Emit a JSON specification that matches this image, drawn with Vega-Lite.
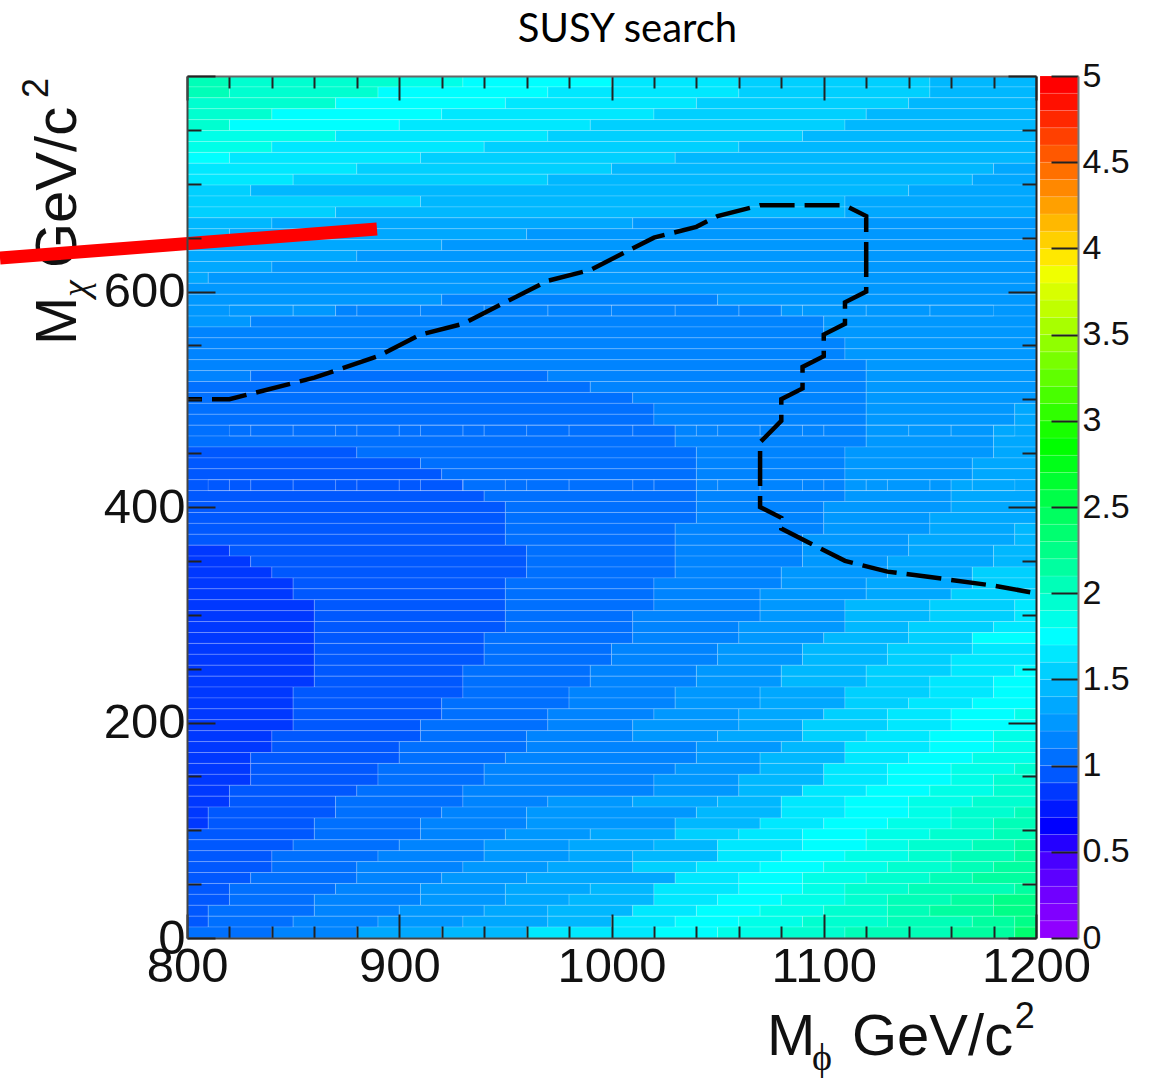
{"$schema":"https://vega.github.io/schema/vega-lite/v6.json","width":849,"height":862,"autosize":{"type":"none"},"padding":{"left":187,"top":76,"right":123,"bottom":142},"background":"white","title":{"text":"SUSY search","font":"Lato","fontSize":40,"fontWeight":"normal","color":"#000","anchor":"middle","dx":16,"offset":2},
"datasets":{"heat":[
{"r":78,"a":800,"b":820,"z":2.05},{"r":78,"a":820,"b":900,"z":1.95},{"r":78,"a":900,"b":930,"z":1.85},{"r":78,"a":930,"b":1000,"z":1.75},{"r":78,"a":1000,"b":1060,"z":1.65},{"r":78,"a":1060,"b":1150,"z":1.55},{"r":78,"a":1150,"b":1200,"z":1.45},
{"r":77,"a":800,"b":820,"z":2.05},{"r":77,"a":820,"b":890,"z":1.95},{"r":77,"a":890,"b":970,"z":1.75},{"r":77,"a":970,"b":1060,"z":1.65},{"r":77,"a":1060,"b":1150,"z":1.55},{"r":77,"a":1150,"b":1200,"z":1.45},
{"r":76,"a":800,"b":870,"z":1.95},{"r":76,"a":870,"b":950,"z":1.75},{"r":76,"a":950,"b":1040,"z":1.65},{"r":76,"a":1040,"b":1140,"z":1.55},{"r":76,"a":1140,"b":1200,"z":1.45},
{"r":75,"a":800,"b":840,"z":1.95},{"r":75,"a":840,"b":920,"z":1.75},{"r":75,"a":920,"b":1020,"z":1.65},{"r":75,"a":1020,"b":1120,"z":1.55},{"r":75,"a":1120,"b":1200,"z":1.45},
{"r":74,"a":800,"b":820,"z":1.95},{"r":74,"a":820,"b":900,"z":1.75},{"r":74,"a":900,"b":990,"z":1.65},{"r":74,"a":990,"b":1110,"z":1.55},{"r":74,"a":1110,"b":1200,"z":1.45},
{"r":73,"a":800,"b":870,"z":1.85},{"r":73,"a":870,"b":970,"z":1.65},{"r":73,"a":970,"b":1090,"z":1.55},{"r":73,"a":1090,"b":1200,"z":1.45},
{"r":72,"a":800,"b":840,"z":1.85},{"r":72,"a":840,"b":940,"z":1.65},{"r":72,"a":940,"b":1060,"z":1.55},{"r":72,"a":1060,"b":1200,"z":1.45},
{"r":71,"a":800,"b":820,"z":1.75},{"r":71,"a":820,"b":910,"z":1.65},{"r":71,"a":910,"b":1030,"z":1.55},{"r":71,"a":1030,"b":1200,"z":1.45},
{"r":70,"a":800,"b":880,"z":1.65},{"r":70,"a":880,"b":1000,"z":1.55},{"r":70,"a":1000,"b":1180,"z":1.45},{"r":70,"a":1180,"b":1200,"z":1.35},
{"r":69,"a":800,"b":850,"z":1.65},{"r":69,"a":850,"b":970,"z":1.55},{"r":69,"a":970,"b":1170,"z":1.45},{"r":69,"a":1170,"b":1200,"z":1.35},
{"r":68,"a":800,"b":830,"z":1.55},{"r":68,"a":830,"b":1140,"z":1.45},{"r":68,"a":1140,"b":1200,"z":1.35},
{"r":67,"a":800,"b":910,"z":1.55},{"r":67,"a":910,"b":1110,"z":1.45},{"r":67,"a":1110,"b":1200,"z":1.35},
{"r":66,"a":800,"b":870,"z":1.55},{"r":66,"a":870,"b":1110,"z":1.45},{"r":66,"a":1110,"b":1200,"z":1.35},
{"r":65,"a":800,"b":840,"z":1.45},{"r":65,"a":840,"b":1010,"z":1.35},{"r":65,"a":1010,"b":1200,"z":1.25},
{"r":64,"a":800,"b":820,"z":1.45},{"r":64,"a":820,"b":960,"z":1.35},{"r":64,"a":960,"b":1200,"z":1.25},
{"r":63,"a":800,"b":920,"z":1.35},{"r":63,"a":920,"b":1200,"z":1.25},
{"r":62,"a":800,"b":880,"z":1.35},{"r":62,"a":880,"b":1200,"z":1.25},
{"r":61,"a":800,"b":840,"z":1.35},{"r":61,"a":840,"b":1200,"z":1.25},
{"r":60,"a":800,"b":810,"z":1.35},{"r":60,"a":810,"b":1200,"z":1.25},
{"r":59,"a":800,"b":1200,"z":1.25},
{"r":58,"a":800,"b":920,"z":1.25},{"r":58,"a":920,"b":1050,"z":1.15},{"r":58,"a":1050,"b":1200,"z":1.25},
{"r":57,"a":800,"b":870,"z":1.25},{"r":57,"a":870,"b":1080,"z":1.15},{"r":57,"a":1080,"b":1200,"z":1.25},
{"r":56,"a":800,"b":830,"z":1.25},{"r":56,"a":830,"b":1100,"z":1.15},{"r":56,"a":1100,"b":1200,"z":1.25},
{"r":55,"a":800,"b":1100,"z":1.15},{"r":55,"a":1100,"b":1200,"z":1.25},
{"r":54,"a":800,"b":1110,"z":1.15},{"r":54,"a":1110,"b":1200,"z":1.25},
{"r":53,"a":800,"b":1110,"z":1.15},{"r":53,"a":1110,"b":1200,"z":1.25},
{"r":52,"a":800,"b":1120,"z":1.15},{"r":52,"a":1120,"b":1200,"z":1.25},
{"r":51,"a":800,"b":830,"z":1.15},{"r":51,"a":830,"b":970,"z":1.05},{"r":51,"a":970,"b":1120,"z":1.15},{"r":51,"a":1120,"b":1200,"z":1.25},
{"r":50,"a":800,"b":990,"z":1.05},{"r":50,"a":990,"b":1120,"z":1.15},{"r":50,"a":1120,"b":1200,"z":1.25},
{"r":49,"a":800,"b":1010,"z":1.05},{"r":49,"a":1010,"b":1120,"z":1.15},{"r":49,"a":1120,"b":1200,"z":1.25},
{"r":48,"a":800,"b":1020,"z":1.05},{"r":48,"a":1020,"b":1120,"z":1.15},{"r":48,"a":1120,"b":1190,"z":1.25},{"r":48,"a":1190,"b":1200,"z":1.35},
{"r":47,"a":800,"b":1020,"z":1.05},{"r":47,"a":1020,"b":1120,"z":1.15},{"r":47,"a":1120,"b":1190,"z":1.25},{"r":47,"a":1190,"b":1200,"z":1.35},
{"r":46,"a":800,"b":1030,"z":1.05},{"r":46,"a":1030,"b":1120,"z":1.15},{"r":46,"a":1120,"b":1180,"z":1.25},{"r":46,"a":1180,"b":1200,"z":1.35},
{"r":45,"a":800,"b":1030,"z":1.05},{"r":45,"a":1030,"b":1120,"z":1.15},{"r":45,"a":1120,"b":1180,"z":1.25},{"r":45,"a":1180,"b":1200,"z":1.35},
{"r":44,"a":800,"b":880,"z":0.95},{"r":44,"a":880,"b":1040,"z":1.05},{"r":44,"a":1040,"b":1110,"z":1.15},{"r":44,"a":1110,"b":1180,"z":1.25},{"r":44,"a":1180,"b":1200,"z":1.35},
{"r":43,"a":800,"b":910,"z":0.95},{"r":43,"a":910,"b":1040,"z":1.05},{"r":43,"a":1040,"b":1110,"z":1.15},{"r":43,"a":1110,"b":1170,"z":1.25},{"r":43,"a":1170,"b":1200,"z":1.35},
{"r":42,"a":800,"b":920,"z":0.95},{"r":42,"a":920,"b":1040,"z":1.05},{"r":42,"a":1040,"b":1110,"z":1.15},{"r":42,"a":1110,"b":1170,"z":1.25},{"r":42,"a":1170,"b":1200,"z":1.35},
{"r":41,"a":800,"b":930,"z":0.95},{"r":41,"a":930,"b":1040,"z":1.05},{"r":41,"a":1040,"b":1110,"z":1.15},{"r":41,"a":1110,"b":1160,"z":1.25},{"r":41,"a":1160,"b":1200,"z":1.35},
{"r":40,"a":800,"b":940,"z":0.95},{"r":40,"a":940,"b":1040,"z":1.05},{"r":40,"a":1040,"b":1110,"z":1.15},{"r":40,"a":1110,"b":1160,"z":1.25},{"r":40,"a":1160,"b":1200,"z":1.35},
{"r":39,"a":800,"b":950,"z":0.95},{"r":39,"a":950,"b":1040,"z":1.05},{"r":39,"a":1040,"b":1100,"z":1.15},{"r":39,"a":1100,"b":1160,"z":1.25},{"r":39,"a":1160,"b":1200,"z":1.35},
{"r":38,"a":800,"b":950,"z":0.95},{"r":38,"a":950,"b":1040,"z":1.05},{"r":38,"a":1040,"b":1100,"z":1.15},{"r":38,"a":1100,"b":1150,"z":1.25},{"r":38,"a":1150,"b":1200,"z":1.35},
{"r":37,"a":800,"b":950,"z":0.95},{"r":37,"a":950,"b":1030,"z":1.05},{"r":37,"a":1030,"b":1100,"z":1.15},{"r":37,"a":1100,"b":1150,"z":1.25},{"r":37,"a":1150,"b":1190,"z":1.35},{"r":37,"a":1190,"b":1200,"z":1.45},
{"r":36,"a":800,"b":950,"z":0.95},{"r":36,"a":950,"b":1030,"z":1.05},{"r":36,"a":1030,"b":1090,"z":1.15},{"r":36,"a":1090,"b":1140,"z":1.25},{"r":36,"a":1140,"b":1190,"z":1.35},{"r":36,"a":1190,"b":1200,"z":1.45},
{"r":35,"a":800,"b":820,"z":0.85},{"r":35,"a":820,"b":960,"z":0.95},{"r":35,"a":960,"b":1030,"z":1.05},{"r":35,"a":1030,"b":1090,"z":1.15},{"r":35,"a":1090,"b":1140,"z":1.25},{"r":35,"a":1140,"b":1180,"z":1.35},{"r":35,"a":1180,"b":1200,"z":1.45},
{"r":34,"a":800,"b":830,"z":0.85},{"r":34,"a":830,"b":960,"z":0.95},{"r":34,"a":960,"b":1030,"z":1.05},{"r":34,"a":1030,"b":1090,"z":1.15},{"r":34,"a":1090,"b":1130,"z":1.25},{"r":34,"a":1130,"b":1180,"z":1.35},{"r":34,"a":1180,"b":1200,"z":1.45},
{"r":33,"a":800,"b":840,"z":0.85},{"r":33,"a":840,"b":960,"z":0.95},{"r":33,"a":960,"b":1030,"z":1.05},{"r":33,"a":1030,"b":1080,"z":1.15},{"r":33,"a":1080,"b":1130,"z":1.25},{"r":33,"a":1130,"b":1170,"z":1.35},{"r":33,"a":1170,"b":1200,"z":1.55},
{"r":32,"a":800,"b":850,"z":0.85},{"r":32,"a":850,"b":950,"z":0.95},{"r":32,"a":950,"b":1020,"z":1.05},{"r":32,"a":1020,"b":1080,"z":1.15},{"r":32,"a":1080,"b":1120,"z":1.25},{"r":32,"a":1120,"b":1170,"z":1.35},{"r":32,"a":1170,"b":1200,"z":1.55},
{"r":31,"a":800,"b":850,"z":0.85},{"r":31,"a":850,"b":950,"z":0.95},{"r":31,"a":950,"b":1020,"z":1.05},{"r":31,"a":1020,"b":1070,"z":1.15},{"r":31,"a":1070,"b":1120,"z":1.25},{"r":31,"a":1120,"b":1160,"z":1.35},{"r":31,"a":1160,"b":1200,"z":1.55},
{"r":30,"a":800,"b":860,"z":0.85},{"r":30,"a":860,"b":950,"z":0.95},{"r":30,"a":950,"b":1020,"z":1.05},{"r":30,"a":1020,"b":1070,"z":1.15},{"r":30,"a":1070,"b":1110,"z":1.25},{"r":30,"a":1110,"b":1150,"z":1.45},{"r":30,"a":1150,"b":1190,"z":1.55},{"r":30,"a":1190,"b":1200,"z":1.65},
{"r":29,"a":800,"b":860,"z":0.85},{"r":29,"a":860,"b":950,"z":0.95},{"r":29,"a":950,"b":1010,"z":1.05},{"r":29,"a":1010,"b":1070,"z":1.15},{"r":29,"a":1070,"b":1110,"z":1.25},{"r":29,"a":1110,"b":1150,"z":1.45},{"r":29,"a":1150,"b":1190,"z":1.55},{"r":29,"a":1190,"b":1200,"z":1.65},
{"r":28,"a":800,"b":860,"z":0.85},{"r":28,"a":860,"b":950,"z":0.95},{"r":28,"a":950,"b":1010,"z":1.05},{"r":28,"a":1010,"b":1060,"z":1.15},{"r":28,"a":1060,"b":1110,"z":1.25},{"r":28,"a":1110,"b":1140,"z":1.45},{"r":28,"a":1140,"b":1180,"z":1.55},{"r":28,"a":1180,"b":1200,"z":1.65},
{"r":27,"a":800,"b":860,"z":0.85},{"r":27,"a":860,"b":940,"z":0.95},{"r":27,"a":940,"b":1010,"z":1.05},{"r":27,"a":1010,"b":1060,"z":1.15},{"r":27,"a":1060,"b":1100,"z":1.25},{"r":27,"a":1100,"b":1140,"z":1.45},{"r":27,"a":1140,"b":1170,"z":1.55},{"r":27,"a":1170,"b":1200,"z":1.75},
{"r":26,"a":800,"b":860,"z":0.85},{"r":26,"a":860,"b":940,"z":0.95},{"r":26,"a":940,"b":1000,"z":1.05},{"r":26,"a":1000,"b":1050,"z":1.15},{"r":26,"a":1050,"b":1090,"z":1.25},{"r":26,"a":1090,"b":1130,"z":1.45},{"r":26,"a":1130,"b":1170,"z":1.55},{"r":26,"a":1170,"b":1200,"z":1.65},
{"r":25,"a":800,"b":860,"z":0.85},{"r":25,"a":860,"b":940,"z":0.95},{"r":25,"a":940,"b":1000,"z":1.05},{"r":25,"a":1000,"b":1050,"z":1.15},{"r":25,"a":1050,"b":1090,"z":1.25},{"r":25,"a":1090,"b":1130,"z":1.45},{"r":25,"a":1130,"b":1160,"z":1.55},{"r":25,"a":1160,"b":1200,"z":1.65},
{"r":24,"a":800,"b":860,"z":0.85},{"r":24,"a":860,"b":930,"z":0.95},{"r":24,"a":930,"b":990,"z":1.05},{"r":24,"a":990,"b":1040,"z":1.15},{"r":24,"a":1040,"b":1080,"z":1.25},{"r":24,"a":1080,"b":1120,"z":1.45},{"r":24,"a":1120,"b":1160,"z":1.55},{"r":24,"a":1160,"b":1190,"z":1.65},{"r":24,"a":1190,"b":1200,"z":1.75},
{"r":23,"a":800,"b":860,"z":0.85},{"r":23,"a":860,"b":930,"z":0.95},{"r":23,"a":930,"b":990,"z":1.05},{"r":23,"a":990,"b":1040,"z":1.15},{"r":23,"a":1040,"b":1080,"z":1.25},{"r":23,"a":1080,"b":1120,"z":1.45},{"r":23,"a":1120,"b":1150,"z":1.55},{"r":23,"a":1150,"b":1180,"z":1.65},{"r":23,"a":1180,"b":1200,"z":1.75},
{"r":22,"a":800,"b":850,"z":0.85},{"r":22,"a":850,"b":930,"z":0.95},{"r":22,"a":930,"b":980,"z":1.05},{"r":22,"a":980,"b":1030,"z":1.15},{"r":22,"a":1030,"b":1070,"z":1.25},{"r":22,"a":1070,"b":1110,"z":1.35},{"r":22,"a":1110,"b":1150,"z":1.55},{"r":22,"a":1150,"b":1180,"z":1.65},{"r":22,"a":1180,"b":1200,"z":1.75},
{"r":21,"a":800,"b":850,"z":0.85},{"r":21,"a":850,"b":920,"z":0.95},{"r":21,"a":920,"b":980,"z":1.05},{"r":21,"a":980,"b":1030,"z":1.15},{"r":21,"a":1030,"b":1070,"z":1.25},{"r":21,"a":1070,"b":1110,"z":1.35},{"r":21,"a":1110,"b":1140,"z":1.55},{"r":21,"a":1140,"b":1170,"z":1.65},{"r":21,"a":1170,"b":1200,"z":1.75},
{"r":20,"a":800,"b":850,"z":0.85},{"r":20,"a":850,"b":920,"z":0.95},{"r":20,"a":920,"b":970,"z":1.05},{"r":20,"a":970,"b":1020,"z":1.15},{"r":20,"a":1020,"b":1060,"z":1.25},{"r":20,"a":1060,"b":1100,"z":1.35},{"r":20,"a":1100,"b":1130,"z":1.55},{"r":20,"a":1130,"b":1160,"z":1.65},{"r":20,"a":1160,"b":1190,"z":1.75},{"r":20,"a":1190,"b":1200,"z":1.85},
{"r":19,"a":800,"b":850,"z":0.85},{"r":19,"a":850,"b":910,"z":0.95},{"r":19,"a":910,"b":970,"z":1.05},{"r":19,"a":970,"b":1010,"z":1.15},{"r":19,"a":1010,"b":1060,"z":1.25},{"r":19,"a":1060,"b":1090,"z":1.35},{"r":19,"a":1090,"b":1130,"z":1.55},{"r":19,"a":1130,"b":1160,"z":1.65},{"r":19,"a":1160,"b":1200,"z":1.75},
{"r":18,"a":800,"b":840,"z":0.85},{"r":18,"a":840,"b":910,"z":0.95},{"r":18,"a":910,"b":960,"z":1.05},{"r":18,"a":960,"b":1010,"z":1.15},{"r":18,"a":1010,"b":1050,"z":1.25},{"r":18,"a":1050,"b":1090,"z":1.35},{"r":18,"a":1090,"b":1120,"z":1.55},{"r":18,"a":1120,"b":1150,"z":1.65},{"r":18,"a":1150,"b":1180,"z":1.75},{"r":18,"a":1180,"b":1200,"z":1.85},
{"r":17,"a":800,"b":840,"z":0.85},{"r":17,"a":840,"b":900,"z":0.95},{"r":17,"a":900,"b":960,"z":1.05},{"r":17,"a":960,"b":1040,"z":1.15},{"r":17,"a":1040,"b":1080,"z":1.25},{"r":17,"a":1080,"b":1110,"z":1.45},{"r":17,"a":1110,"b":1150,"z":1.65},{"r":17,"a":1150,"b":1180,"z":1.75},{"r":17,"a":1180,"b":1200,"z":1.85},
{"r":16,"a":800,"b":830,"z":0.85},{"r":16,"a":830,"b":900,"z":0.95},{"r":16,"a":900,"b":950,"z":1.05},{"r":16,"a":950,"b":1040,"z":1.15},{"r":16,"a":1040,"b":1070,"z":1.25},{"r":16,"a":1070,"b":1110,"z":1.45},{"r":16,"a":1110,"b":1140,"z":1.65},{"r":16,"a":1140,"b":1170,"z":1.75},{"r":16,"a":1170,"b":1200,"z":1.85},
{"r":15,"a":800,"b":830,"z":0.85},{"r":15,"a":830,"b":890,"z":0.95},{"r":15,"a":890,"b":940,"z":1.05},{"r":15,"a":940,"b":1030,"z":1.15},{"r":15,"a":1030,"b":1070,"z":1.25},{"r":15,"a":1070,"b":1100,"z":1.45},{"r":15,"a":1100,"b":1130,"z":1.65},{"r":15,"a":1130,"b":1160,"z":1.75},{"r":15,"a":1160,"b":1190,"z":1.85},{"r":15,"a":1190,"b":1200,"z":1.95},
{"r":14,"a":800,"b":830,"z":0.85},{"r":14,"a":830,"b":890,"z":0.95},{"r":14,"a":890,"b":940,"z":1.05},{"r":14,"a":940,"b":1020,"z":1.15},{"r":14,"a":1020,"b":1060,"z":1.25},{"r":14,"a":1060,"b":1100,"z":1.45},{"r":14,"a":1100,"b":1130,"z":1.65},{"r":14,"a":1130,"b":1160,"z":1.75},{"r":14,"a":1160,"b":1180,"z":1.85},{"r":14,"a":1180,"b":1200,"z":1.95},
{"r":13,"a":800,"b":820,"z":0.85},{"r":13,"a":820,"b":880,"z":0.95},{"r":13,"a":880,"b":930,"z":1.05},{"r":13,"a":930,"b":1020,"z":1.15},{"r":13,"a":1020,"b":1060,"z":1.25},{"r":13,"a":1060,"b":1090,"z":1.45},{"r":13,"a":1090,"b":1120,"z":1.65},{"r":13,"a":1120,"b":1150,"z":1.75},{"r":13,"a":1150,"b":1180,"z":1.85},{"r":13,"a":1180,"b":1200,"z":1.95},
{"r":12,"a":800,"b":820,"z":0.85},{"r":12,"a":820,"b":870,"z":0.95},{"r":12,"a":870,"b":930,"z":1.05},{"r":12,"a":930,"b":970,"z":1.15},{"r":12,"a":970,"b":1010,"z":1.25},{"r":12,"a":1010,"b":1050,"z":1.35},{"r":12,"a":1050,"b":1080,"z":1.45},{"r":12,"a":1080,"b":1110,"z":1.65},{"r":12,"a":1110,"b":1140,"z":1.75},{"r":12,"a":1140,"b":1170,"z":1.85},{"r":12,"a":1170,"b":1200,"z":1.95},
{"r":11,"a":800,"b":810,"z":0.85},{"r":11,"a":810,"b":870,"z":0.95},{"r":11,"a":870,"b":920,"z":1.05},{"r":11,"a":920,"b":960,"z":1.15},{"r":11,"a":960,"b":1040,"z":1.25},{"r":11,"a":1040,"b":1080,"z":1.45},{"r":11,"a":1080,"b":1110,"z":1.65},{"r":11,"a":1110,"b":1140,"z":1.75},{"r":11,"a":1140,"b":1160,"z":1.85},{"r":11,"a":1160,"b":1190,"z":1.95},{"r":11,"a":1190,"b":1200,"z":2.05},
{"r":10,"a":800,"b":810,"z":0.85},{"r":10,"a":810,"b":860,"z":0.95},{"r":10,"a":860,"b":910,"z":1.05},{"r":10,"a":910,"b":960,"z":1.15},{"r":10,"a":960,"b":1030,"z":1.25},{"r":10,"a":1030,"b":1070,"z":1.45},{"r":10,"a":1070,"b":1100,"z":1.65},{"r":10,"a":1100,"b":1130,"z":1.75},{"r":10,"a":1130,"b":1160,"z":1.85},{"r":10,"a":1160,"b":1180,"z":1.95},{"r":10,"a":1180,"b":1200,"z":2.05},
{"r":9,"a":800,"b":860,"z":0.95},{"r":9,"a":860,"b":910,"z":1.05},{"r":9,"a":910,"b":950,"z":1.15},{"r":9,"a":950,"b":990,"z":1.25},{"r":9,"a":990,"b":1030,"z":1.35},{"r":9,"a":1030,"b":1060,"z":1.55},{"r":9,"a":1060,"b":1090,"z":1.65},{"r":9,"a":1090,"b":1120,"z":1.75},{"r":9,"a":1120,"b":1150,"z":1.85},{"r":9,"a":1150,"b":1180,"z":1.95},{"r":9,"a":1180,"b":1200,"z":2.05},
{"r":8,"a":800,"b":850,"z":0.95},{"r":8,"a":850,"b":900,"z":1.05},{"r":8,"a":900,"b":940,"z":1.15},{"r":8,"a":940,"b":980,"z":1.25},{"r":8,"a":980,"b":1020,"z":1.35},{"r":8,"a":1020,"b":1050,"z":1.45},{"r":8,"a":1050,"b":1090,"z":1.65},{"r":8,"a":1090,"b":1120,"z":1.75},{"r":8,"a":1120,"b":1140,"z":1.85},{"r":8,"a":1140,"b":1170,"z":1.95},{"r":8,"a":1170,"b":1190,"z":2.05},{"r":8,"a":1190,"b":1200,"z":2.15},
{"r":7,"a":800,"b":840,"z":0.95},{"r":7,"a":840,"b":890,"z":1.05},{"r":7,"a":890,"b":940,"z":1.15},{"r":7,"a":940,"b":980,"z":1.25},{"r":7,"a":980,"b":1010,"z":1.35},{"r":7,"a":1010,"b":1050,"z":1.45},{"r":7,"a":1050,"b":1080,"z":1.65},{"r":7,"a":1080,"b":1110,"z":1.75},{"r":7,"a":1110,"b":1140,"z":1.85},{"r":7,"a":1140,"b":1160,"z":1.95},{"r":7,"a":1160,"b":1190,"z":2.05},{"r":7,"a":1190,"b":1200,"z":2.15},
{"r":6,"a":800,"b":840,"z":0.95},{"r":6,"a":840,"b":880,"z":1.05},{"r":6,"a":880,"b":930,"z":1.15},{"r":6,"a":930,"b":970,"z":1.25},{"r":6,"a":970,"b":1010,"z":1.35},{"r":6,"a":1010,"b":1040,"z":1.55},{"r":6,"a":1040,"b":1070,"z":1.65},{"r":6,"a":1070,"b":1100,"z":1.75},{"r":6,"a":1100,"b":1130,"z":1.85},{"r":6,"a":1130,"b":1160,"z":1.95},{"r":6,"a":1160,"b":1180,"z":2.05},{"r":6,"a":1180,"b":1200,"z":2.15},
{"r":5,"a":800,"b":830,"z":0.95},{"r":5,"a":830,"b":880,"z":1.05},{"r":5,"a":880,"b":920,"z":1.15},{"r":5,"a":920,"b":960,"z":1.25},{"r":5,"a":960,"b":1030,"z":1.35},{"r":5,"a":1030,"b":1060,"z":1.65},{"r":5,"a":1060,"b":1090,"z":1.75},{"r":5,"a":1090,"b":1120,"z":1.85},{"r":5,"a":1120,"b":1150,"z":1.95},{"r":5,"a":1150,"b":1170,"z":2.05},{"r":5,"a":1170,"b":1200,"z":2.15},
{"r":4,"a":800,"b":820,"z":0.95},{"r":4,"a":820,"b":870,"z":1.05},{"r":4,"a":870,"b":910,"z":1.15},{"r":4,"a":910,"b":950,"z":1.25},{"r":4,"a":950,"b":990,"z":1.35},{"r":4,"a":990,"b":1020,"z":1.45},{"r":4,"a":1020,"b":1060,"z":1.65},{"r":4,"a":1060,"b":1090,"z":1.75},{"r":4,"a":1090,"b":1110,"z":1.85},{"r":4,"a":1110,"b":1140,"z":1.95},{"r":4,"a":1140,"b":1190,"z":2.05},{"r":4,"a":1190,"b":1200,"z":2.15},
{"r":3,"a":800,"b":820,"z":0.95},{"r":3,"a":820,"b":860,"z":1.05},{"r":3,"a":860,"b":910,"z":1.15},{"r":3,"a":910,"b":950,"z":1.25},{"r":3,"a":950,"b":980,"z":1.35},{"r":3,"a":980,"b":1020,"z":1.45},{"r":3,"a":1020,"b":1050,"z":1.65},{"r":3,"a":1050,"b":1080,"z":1.75},{"r":3,"a":1080,"b":1110,"z":1.85},{"r":3,"a":1110,"b":1130,"z":1.95},{"r":3,"a":1130,"b":1160,"z":2.05},{"r":3,"a":1160,"b":1180,"z":2.15},{"r":3,"a":1180,"b":1200,"z":2.25},
{"r":2,"a":800,"b":810,"z":0.95},{"r":2,"a":810,"b":860,"z":1.05},{"r":2,"a":860,"b":900,"z":1.15},{"r":2,"a":900,"b":940,"z":1.25},{"r":2,"a":940,"b":970,"z":1.35},{"r":2,"a":970,"b":1010,"z":1.45},{"r":2,"a":1010,"b":1040,"z":1.65},{"r":2,"a":1040,"b":1070,"z":1.75},{"r":2,"a":1070,"b":1100,"z":1.85},{"r":2,"a":1100,"b":1130,"z":1.95},{"r":2,"a":1130,"b":1150,"z":2.05},{"r":2,"a":1150,"b":1180,"z":2.15},{"r":2,"a":1180,"b":1200,"z":2.25},
{"r":1,"a":800,"b":810,"z":0.95},{"r":1,"a":810,"b":850,"z":1.05},{"r":1,"a":850,"b":890,"z":1.15},{"r":1,"a":890,"b":930,"z":1.25},{"r":1,"a":930,"b":970,"z":1.35},{"r":1,"a":970,"b":1000,"z":1.45},{"r":1,"a":1000,"b":1030,"z":1.65},{"r":1,"a":1030,"b":1060,"z":1.75},{"r":1,"a":1060,"b":1090,"z":1.85},{"r":1,"a":1090,"b":1130,"z":1.95},{"r":1,"a":1130,"b":1170,"z":2.05},{"r":1,"a":1170,"b":1190,"z":2.15},{"r":1,"a":1190,"b":1200,"z":2.25},
{"r":0,"a":800,"b":840,"z":1.05},{"r":0,"a":840,"b":880,"z":1.15},{"r":0,"a":880,"b":920,"z":1.35},{"r":0,"a":920,"b":960,"z":1.45},{"r":0,"a":960,"b":1020,"z":1.65},{"r":0,"a":1020,"b":1050,"z":1.75},{"r":0,"a":1050,"b":1080,"z":1.85},{"r":0,"a":1080,"b":1110,"z":1.95},{"r":0,"a":1110,"b":1160,"z":2.05},{"r":0,"a":1160,"b":1190,"z":2.15},{"r":0,"a":1190,"b":1200,"z":2.35}
],
"seams":[{"r":57,"a":820,"b":850},{"r":57,"a":850,"b":880},{"r":57,"a":880,"b":910},{"r":57,"a":910,"b":940},{"r":57,"a":940,"b":970},{"r":57,"a":970,"b":1000},{"r":57,"a":1000,"b":1030},{"r":57,"a":1030,"b":1060},{"r":57,"a":1060,"b":1090},{"r":57,"a":1090,"b":1120},{"r":57,"a":1120,"b":1150},{"r":57,"a":1150,"b":1180},
{"r":46,"a":820,"b":830},{"r":46,"a":830,"b":850},{"r":46,"a":850,"b":870},{"r":46,"a":870,"b":880},{"r":46,"a":880,"b":900},{"r":46,"a":900,"b":910},{"r":46,"a":910,"b":930},{"r":46,"a":930,"b":940},{"r":46,"a":940,"b":960},{"r":46,"a":960,"b":980},{"r":46,"a":980,"b":1010},{"r":46,"a":1010,"b":1040},{"r":46,"a":1040,"b":1050},{"r":46,"a":1050,"b":1070},{"r":46,"a":1070,"b":1090},{"r":46,"a":1090,"b":1100},{"r":46,"a":1100,"b":1140},{"r":46,"a":1140,"b":1160},{"r":46,"a":1160,"b":1190},
{"r":41,"a":810,"b":820},{"r":41,"a":820,"b":830},{"r":41,"a":830,"b":850},{"r":41,"a":850,"b":870},{"r":41,"a":870,"b":880},{"r":41,"a":880,"b":900},{"r":41,"a":900,"b":910},{"r":41,"a":910,"b":930},{"r":41,"a":930,"b":950},{"r":41,"a":950,"b":960},{"r":41,"a":960,"b":980},{"r":41,"a":980,"b":1010},{"r":41,"a":1010,"b":1020},{"r":41,"a":1020,"b":1050},{"r":41,"a":1050,"b":1070},{"r":41,"a":1070,"b":1090},{"r":41,"a":1090,"b":1100},{"r":41,"a":1100,"b":1120},{"r":41,"a":1120,"b":1130},{"r":41,"a":1130,"b":1150},{"r":41,"a":1150,"b":1170},{"r":41,"a":1170,"b":1190}],
"bar":[{"z":0.05,"z0":0,"z1":0.1},{"z":0.15,"z0":0.1,"z1":0.2},{"z":0.25,"z0":0.2,"z1":0.3},{"z":0.35,"z0":0.3,"z1":0.4},{"z":0.45,"z0":0.4,"z1":0.5},{"z":0.55,"z0":0.5,"z1":0.6},{"z":0.65,"z0":0.6,"z1":0.7},{"z":0.75,"z0":0.7,"z1":0.8},{"z":0.85,"z0":0.8,"z1":0.9},{"z":0.95,"z0":0.9,"z1":1},{"z":1.05,"z0":1,"z1":1.1},{"z":1.15,"z0":1.1,"z1":1.2},{"z":1.25,"z0":1.2,"z1":1.3},{"z":1.35,"z0":1.3,"z1":1.4},{"z":1.45,"z0":1.4,"z1":1.5},{"z":1.55,"z0":1.5,"z1":1.6},{"z":1.65,"z0":1.6,"z1":1.7},{"z":1.75,"z0":1.7,"z1":1.8},{"z":1.85,"z0":1.8,"z1":1.9},{"z":1.95,"z0":1.9,"z1":2},{"z":2.05,"z0":2,"z1":2.1},{"z":2.15,"z0":2.1,"z1":2.2},{"z":2.25,"z0":2.2,"z1":2.3},{"z":2.35,"z0":2.3,"z1":2.4},{"z":2.45,"z0":2.4,"z1":2.5},{"z":2.55,"z0":2.5,"z1":2.6},{"z":2.65,"z0":2.6,"z1":2.7},{"z":2.75,"z0":2.7,"z1":2.8},{"z":2.85,"z0":2.8,"z1":2.9},{"z":2.95,"z0":2.9,"z1":3},{"z":3.05,"z0":3,"z1":3.1},{"z":3.15,"z0":3.1,"z1":3.2},{"z":3.25,"z0":3.2,"z1":3.3},{"z":3.35,"z0":3.3,"z1":3.4},{"z":3.45,"z0":3.4,"z1":3.5},{"z":3.55,"z0":3.5,"z1":3.6},{"z":3.65,"z0":3.6,"z1":3.7},{"z":3.75,"z0":3.7,"z1":3.8},{"z":3.85,"z0":3.8,"z1":3.9},{"z":3.95,"z0":3.9,"z1":4},{"z":4.05,"z0":4,"z1":4.1},{"z":4.15,"z0":4.1,"z1":4.2},{"z":4.25,"z0":4.2,"z1":4.3},{"z":4.35,"z0":4.3,"z1":4.4},{"z":4.45,"z0":4.4,"z1":4.5},{"z":4.55,"z0":4.5,"z1":4.6},{"z":4.65,"z0":4.6,"z1":4.7},{"z":4.75,"z0":4.7,"z1":4.8},{"z":4.85,"z0":4.8,"z1":4.9},{"z":4.95,"z0":4.9,"z1":5}],
"contour":[{"i":0,"x":800,"y":500},{"i":1,"x":820,"y":500},{"i":2,"x":860,"y":520},{"i":3,"x":890,"y":540},{"i":4,"x":910,"y":560},{"i":5,"x":930,"y":570},{"i":6,"x":970,"y":610},{"i":7,"x":990,"y":620},{"i":8,"x":1020,"y":650},{"i":9,"x":1040,"y":660},{"i":10,"x":1050,"y":670},{"i":11,"x":1070,"y":680},{"i":12,"x":1110,"y":680},{"i":13,"x":1120,"y":670},{"i":14,"x":1120,"y":600},{"i":15,"x":1110,"y":590},{"i":16,"x":1110,"y":570},{"i":17,"x":1100,"y":560},{"i":18,"x":1100,"y":540},{"i":19,"x":1090,"y":530},{"i":20,"x":1090,"y":510},{"i":21,"x":1080,"y":500},{"i":22,"x":1080,"y":480},{"i":23,"x":1070,"y":460},{"i":24,"x":1070,"y":400},{"i":25,"x":1080,"y":390},{"i":26,"x":1080,"y":380},{"i":27,"x":1110,"y":350},{"i":28,"x":1130,"y":340},{"i":29,"x":1150,"y":335},{"i":30,"x":1180,"y":327},{"i":31,"x":1200,"y":320}],
"stroke":[{"i":0,"x":711.9,"y":631},{"i":1,"x":889.5,"y":658}]},
"layer":[
{"encoding":{"x":{"field":"a","type":"quantitative","scale":{"domain":[800,1200],"nice":false,"zero":false},"axis":null},"x2":{"field":"b"},"y":{"field":"r","type":"ordinal","sort":"descending","scale":{"paddingInner":0,"paddingOuter":0,"round":false},"axis":null}},
"layer":[
{"data":{"name":"heat"},"mark":{"type":"rect","stroke":"#ffffff","strokeOpacity":0.18,"strokeWidth":1},"encoding":{"color":{"field":"z","type":"quantitative","legend":null,"scale":{"type":"threshold","domain":[0.1,0.2,0.3,0.4,0.5,0.6,0.7,0.8,0.9,1,1.1,1.2,1.3,1.4,1.5,1.6,1.7,1.8,1.9,2,2.1,2.2,2.3,2.4,2.5,2.6,2.7,2.8,2.9,3,3.1,3.2,3.3,3.4,3.5,3.6,3.7,3.8,3.9,4,4.1,4.2,4.3,4.4,4.5,4.6,4.7,4.8,4.9],"range":["#9000ff","#8000ff","#7000ff","#5c00ff","#4800ff","#2400ff","#0000ff","#0018ff","#0038ff","#0058ff","#0070ff","#0084ff","#0098ff","#00a8ff","#00b8ff","#00d0ff","#00e8ff","#00ffff","#00ffe8","#00ffd0","#00ffb8","#00ffa0","#00ff88","#00ff70","#00ff60","#00ff48","#00ff30","#00ff18","#00ff00","#18ff00","#30ff00","#48ff00","#60ff00","#78ff00","#90ff00","#a8ff00","#c0ff00","#d8ff00","#f0ff00","#ffe800","#ffd000","#ffb800","#ffa000","#ff8800","#ff7000","#ff5800","#ff4000","#ff2800","#ff1000","#ff0000"]}}}},
{"data":{"name":"seams"},"mark":{"type":"rect","fillOpacity":0,"stroke":"#ffffff","strokeOpacity":0.2,"strokeWidth":1}}
]},
{"encoding":{"x":{"field":"x","type":"quantitative","scale":{"domain":[800,1200],"nice":false,"zero":false},"axis":{"orient":"bottom","values":[800,820,840,860,880,900,920,940,960,980,1000,1020,1040,1060,1080,1100,1120,1140,1160,1180,1200],"labelExpr":"datum.value % 100 === 0 ? format(datum.value,'d') : ''","title":null,"grid":false,"labelFont":"Liberation Sans","labelFontSize":49,"labelColor":"#111","labelOverlap":false,"labelFlush":false,"labelBound":false,"labelPadding":28,"domainColor":"#444","domainWidth":2,"tickColor":"#222","tickWidth":2,"zindex":1,"tickSize":{"condition":{"test":"datum.value % 100 === 0","value":-24},"value":-12}}},"y":{"field":"y","type":"quantitative","scale":{"domain":[0,800],"nice":false,"zero":false},"axis":{"orient":"left","values":[0,50,100,150,200,250,300,350,400,450,500,550,600,650,700,750,800],"labelExpr":"datum.value % 200 === 0 && datum.value < 800 ? format(datum.value,'d') : ''","title":null,"grid":false,"labelFont":"Liberation Sans","labelFontSize":49,"labelColor":"#111","labelOverlap":false,"labelFlush":false,"labelBound":false,"labelPadding":30,"domainColor":"#444","domainWidth":2,"tickColor":"#222","tickWidth":2,"zindex":1,"tickSize":{"condition":{"test":"datum.value % 200 === 0","value":-28},"value":-14}}}},
"layer":[
{"data":{"name":"contour"},"mark":{"type":"line","color":"#000","strokeWidth":4.5,"strokeDash":[35,10],"strokeDashOffset":20,"interpolate":"linear"},"encoding":{"order":{"field":"i"}}},
{"data":{"values":[{"x":747.7,"y":621.8,"t":"GeV/c"},{"x":747.7,"y":550.3,"t":"M"}]},"mark":{"type":"text","font":"Liberation Sans","fontSize":58,"angle":270,"align":"left","baseline":"alphabetic","color":"#111"},"encoding":{"text":{"field":"t"}}},
{"data":{"values":[{"x":753.4,"y":595,"t":"χ"}]},"mark":{"type":"text","font":"Liberation Serif","fontStyle":"italic","fontSize":38,"angle":270,"align":"left","baseline":"alphabetic","color":"#111"},"encoding":{"text":{"field":"t"}}},
{"data":{"values":[{"x":734.5,"y":779.6,"t":"2"}]},"mark":{"type":"text","font":"Liberation Sans","fontSize":36,"angle":270,"align":"left","baseline":"alphabetic","color":"#111"},"encoding":{"text":{"field":"t"}}},
{"data":{"values":[{"x":1073.3,"y":-108.6,"t":"M"},{"x":1113.3,"y":-108.6,"t":"GeV/c"}]},"mark":{"type":"text","font":"Liberation Sans","fontSize":58,"align":"left","baseline":"alphabetic","color":"#111"},"encoding":{"text":{"field":"t"}}},
{"data":{"values":[{"x":1094.5,"y":-122.5,"t":"ϕ"}]},"mark":{"type":"text","font":"Liberation Serif","fontSize":38,"align":"left","baseline":"alphabetic","color":"#111"},"encoding":{"text":{"field":"t"}}},
{"data":{"values":[{"x":1190,"y":-83.5,"t":"2"}]},"mark":{"type":"text","font":"Liberation Sans","fontSize":36,"align":"left","baseline":"alphabetic","color":"#111"},"encoding":{"text":{"field":"t"}}},
{"data":{"name":"stroke"},"mark":{"type":"line","color":"#ff0000","strokeWidth":13,"strokeCap":"butt"},"encoding":{"order":{"field":"i"}}}
]},
{"data":{"values":[{"x":800,"y":0}]},"mark":{"type":"point","opacity":0},"encoding":{"x":{"field":"x","type":"quantitative","scale":{"domain":[800,1200],"nice":false,"zero":false},"axis":{"orient":"top","values":[800,820,840,860,880,900,920,940,960,980,1000,1020,1040,1060,1080,1100,1120,1140,1160,1180,1200],"labels":false,"title":null,"grid":false,"domainColor":"#666","domainWidth":2,"tickColor":"#222","tickWidth":2,"zindex":1,"tickSize":{"condition":{"test":"datum.value % 100 === 0","value":-24},"value":-12}}},"y":{"field":"y","type":"quantitative","scale":{"domain":[0,800],"nice":false,"zero":false},"axis":{"orient":"right","values":[0,50,100,150,200,250,300,350,400,450,500,550,600,650,700,750,800],"labels":false,"title":null,"grid":false,"domainColor":"#222","domainWidth":2,"tickColor":"#222","tickWidth":2,"zindex":1,"tickSize":{"condition":{"test":"datum.value % 200 === 0","value":-28},"value":-14}}}}},
{"data":{"name":"bar"},"mark":{"type":"rect","stroke":"#ffffff","strokeOpacity":0.12,"strokeWidth":1},"encoding":{"x":{"datum":0,"type":"quantitative","scale":{"domain":[0,1],"range":[853,891],"nice":false,"zero":false},"axis":null},"x2":{"datum":1},"y":{"field":"z0","type":"quantitative","scale":{"domain":[0,5],"nice":false,"zero":false},"axis":{"orient":"right","offset":42,"values":[0,0.5,1,1.5,2,2.5,3,3.5,4,4.5,5],"format":"~g","title":null,"grid":false,"labelFont":"Liberation Sans","labelFontSize":34,"labelColor":"#111","labelOverlap":false,"labelFlush":false,"labelBound":false,"labelPadding":31,"tickSize":-27,"tickColor":"#222","tickWidth":2,"domainColor":"#777","domainWidth":2,"zindex":1}},"y2":{"field":"z1"},"color":{"field":"z","type":"quantitative","legend":null,"scale":{"type":"threshold","domain":[0.1,0.2,0.3,0.4,0.5,0.6,0.7,0.8,0.9,1,1.1,1.2,1.3,1.4,1.5,1.6,1.7,1.8,1.9,2,2.1,2.2,2.3,2.4,2.5,2.6,2.7,2.8,2.9,3,3.1,3.2,3.3,3.4,3.5,3.6,3.7,3.8,3.9,4,4.1,4.2,4.3,4.4,4.5,4.6,4.7,4.8,4.9],"range":["#9000ff","#8000ff","#7000ff","#5c00ff","#4800ff","#2400ff","#0000ff","#0018ff","#0038ff","#0058ff","#0070ff","#0084ff","#0098ff","#00a8ff","#00b8ff","#00d0ff","#00e8ff","#00ffff","#00ffe8","#00ffd0","#00ffb8","#00ffa0","#00ff88","#00ff70","#00ff60","#00ff48","#00ff30","#00ff18","#00ff00","#18ff00","#30ff00","#48ff00","#60ff00","#78ff00","#90ff00","#a8ff00","#c0ff00","#d8ff00","#f0ff00","#ffe800","#ffd000","#ffb800","#ffa000","#ff8800","#ff7000","#ff5800","#ff4000","#ff2800","#ff1000","#ff0000"]}}}}
],
"resolve":{"scale":{"x":"independent","y":"independent"},"axis":{"x":"independent","y":"independent"}}}
